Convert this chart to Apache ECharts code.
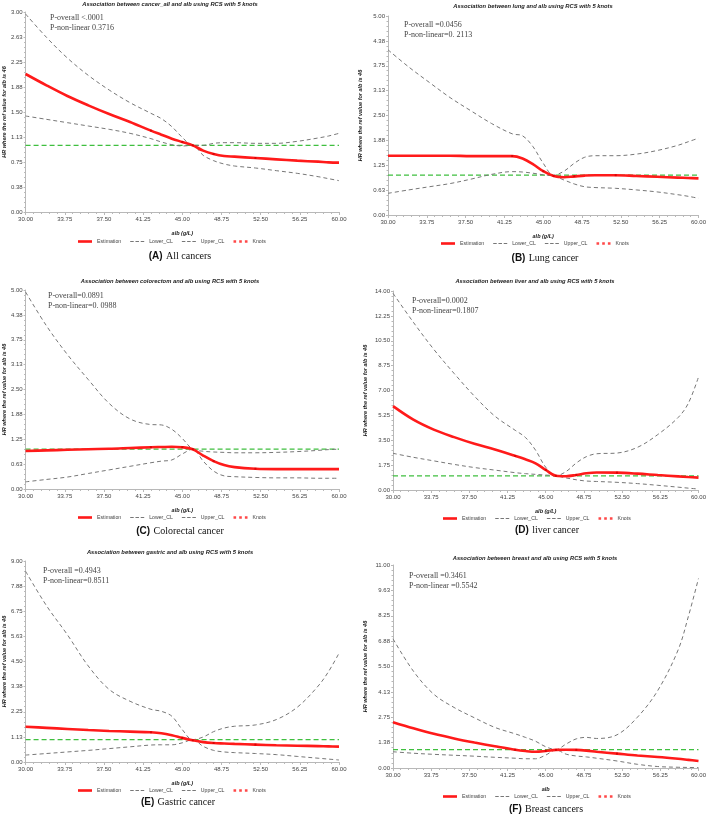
<!DOCTYPE html>
<html>
<head>
<meta charset="utf-8">
<script src="https://cdn.jsdelivr.net/npm/echarts@6/dist/echarts.min.js"></script>
<style>
  html, body { margin: 0; padding: 0; background: #fff; }
  #main { width: 709px; height: 814px; }
</style>
</head>
<body>
<div id="main"></div>
<script>
// albumin grid (g/L), shared by every panel
const alb = [30, 32, 34, 36, 38, 40, 42, 43, 44, 45, 46, 47, 48, 49, 50, 52, 54, 56, 58, 59, 60]
const knotsX = [42, 45, 46, 48, 52]
const refHR = 1

// (A) all cancers
const estA = [2.07, 1.90, 1.74, 1.60, 1.47, 1.35, 1.22, 1.16, 1.10, 1.05, 1.00, 0.92, 0.87, 0.84, 0.83, 0.81, 0.79, 0.77, 0.755, 0.745, 0.74]
const lowA = [1.44, 1.39, 1.34, 1.29, 1.24, 1.18, 1.10, 1.05, 1.01, 0.99, 1.00, 0.85, 0.77, 0.72, 0.69, 0.66, 0.62, 0.58, 0.53, 0.50, 0.47]
const uppA = [2.97, 2.62, 2.31, 2.05, 1.83, 1.64, 1.48, 1.40, 1.28, 1.12, 1.00, 1.00, 1.03, 1.04, 1.04, 1.03, 1.03, 1.06, 1.11, 1.14, 1.18]
// (B) lung
const estB = [1.49, 1.49, 1.49, 1.49, 1.48, 1.48, 1.48, 1.42, 1.28, 1.10, 0.98, 0.95, 0.97, 0.99, 1.00, 1.00, 0.98, 0.96, 0.94, 0.93, 0.92]
const lowB = [0.545, 0.63, 0.71, 0.79, 0.90, 1.02, 1.09, 1.08, 1.05, 1.01, 0.98, 0.88, 0.78, 0.71, 0.69, 0.67, 0.63, 0.58, 0.51, 0.47, 0.42]
const uppB = [4.15, 3.72, 3.33, 2.95, 2.62, 2.30, 2.04, 1.99, 1.72, 1.30, 1.00, 1.10, 1.30, 1.45, 1.49, 1.49, 1.53, 1.62, 1.75, 1.84, 1.93]
// (C) colorectal
const estC = [0.955, 0.97, 0.985, 1.00, 1.01, 1.03, 1.05, 1.055, 1.06, 1.05, 1.00, 0.84, 0.70, 0.60, 0.55, 0.51, 0.50, 0.50, 0.50, 0.50, 0.50]
const lowC = [0.18, 0.24, 0.30, 0.39, 0.48, 0.57, 0.66, 0.70, 0.73, 0.88, 1.00, 0.70, 0.45, 0.33, 0.31, 0.29, 0.28, 0.28, 0.27, 0.27, 0.27]
const uppC = [4.95, 4.10, 3.38, 2.75, 2.15, 1.76, 1.62, 1.61, 1.50, 1.27, 1.00, 0.95, 0.93, 0.92, 0.91, 0.91, 0.92, 0.94, 0.97, 0.99, 1.00]
// (D) liver
const estD = [5.90, 4.95, 4.25, 3.72, 3.25, 2.85, 2.40, 2.16, 1.88, 1.41, 1.00, 0.97, 1.06, 1.18, 1.23, 1.22, 1.15, 1.05, 0.96, 0.91, 0.87]
const lowD = [2.58, 2.30, 2.05, 1.80, 1.58, 1.40, 1.22, 1.15, 1.10, 1.05, 1.00, 0.85, 0.72, 0.63, 0.60, 0.54, 0.45, 0.33, 0.20, 0.13, 0.07]
const uppD = [13.84, 11.80, 9.90, 8.20, 6.60, 5.20, 4.20, 3.70, 2.80, 1.60, 1.00, 1.30, 1.90, 2.35, 2.55, 2.60, 3.00, 3.90, 5.10, 6.10, 7.95]
// (E) gastric
const estE = [1.58, 1.53, 1.48, 1.43, 1.39, 1.36, 1.33, 1.29, 1.20, 1.08, 0.97, 0.89, 0.85, 0.83, 0.81, 0.78, 0.75, 0.73, 0.71, 0.70, 0.69]
const lowE = [0.31, 0.38, 0.45, 0.52, 0.60, 0.68, 0.76, 0.77, 0.77, 0.86, 1.00, 0.70, 0.52, 0.45, 0.42, 0.38, 0.33, 0.25, 0.17, 0.13, 0.09]
const uppE = [8.54, 7.00, 5.70, 4.30, 3.25, 2.72, 2.36, 2.27, 2.05, 1.45, 1.00, 1.12, 1.36, 1.52, 1.60, 1.66, 1.90, 2.45, 3.40, 4.05, 4.87]
// (F) breast
const estF = [2.48, 2.15, 1.85, 1.60, 1.38, 1.18, 0.99, 0.92, 0.88, 0.92, 0.98, 0.99, 0.98, 0.94, 0.88, 0.78, 0.68, 0.60, 0.50, 0.44, 0.38]
const lowF = [0.88, 0.80, 0.74, 0.69, 0.64, 0.58, 0.53, 0.50, 0.50, 0.70, 0.98, 0.75, 0.65, 0.60, 0.53, 0.38, 0.20, 0.08, 0.04, 0.03, 0.02]
const uppF = [7.00, 5.25, 4.00, 3.28, 2.72, 2.20, 1.85, 1.66, 1.45, 1.15, 1.00, 1.30, 1.58, 1.66, 1.60, 1.80, 2.75, 4.20, 6.40, 8.20, 10.27]

const yMax = [3, 5, 5, 14, 9, 11]
const yStep = [0.375, 0.625, 0.625, 1.75, 1.125, 1.375]
const titles = [
  'Association between cancer_all and alb using RCS with 5 knots',
  'Association between lung and alb using RCS with 5 knots',
  'Association between colorectom and alb using RCS with 5 knots',
  'Association between liver and alb using RCS with 5 knots',
  'Association between gastric and alb using RCS with 5 knots',
  'Association between breast and alb using RCS with 5 knots'
]
const pTexts = [
  'P-overall <.0001\nP-non-linear 0.3716',
  'P-overall =0.0456\nP-non-linear=0. 2113',
  'P-overall=0.0891\nP-non-linear=0. 0988',
  'P-overall=0.0002\nP-non-linear=0.1807',
  'P-overall =0.4943\nP-non-linear=0.8511',
  'P-overall =0.3461\nP-non-linear =0.5542'
]
const letters = ['(A)', '(B)', '(C)', '(D)', '(E)', '(F)']
const captions = ['All cancers', 'Lung cancer', 'Colorectal cancer', 'liver cancer', 'Gastric cancer', 'Breast cancers']
const xNames = ['alb (g/L)', 'alb (g/L)', 'alb (g/L)', 'alb (g/L)', 'alb (g/L)', 'alb']

const ests = [estA, estB, estC, estD, estE, estF]
const lows = [lowA, lowB, lowC, lowD, lowE, lowF]
const upps = [uppA, uppB, uppC, uppD, uppE, uppF]

// layout: grid box, title y, p-text pos, legend pos, caption pos
const layout = [
  { left: 24, top: 12, width: 315, height: 200, tx: 170, ty: 1, px: 50, py: 13, lx: 78, ly: 239, cx: 180, cy: 250 },
  { left: 388, top: 16, width: 314, height: 199, tx: 533, ty: 3, px: 404, py: 20, lx: 441, ly: 241, cx: 545, cy: 252 },
  { left: 22, top: 290, width: 317, height: 199, tx: 170, ty: 278, px: 48, py: 291, lx: 78, ly: 515, cx: 180, cy: 525 },
  { left: 393, top: 291, width: 309, height: 199, tx: 535, ty: 278, px: 412, py: 296, lx: 443, ly: 516, cx: 547, cy: 524 },
  { left: 23, top: 561, width: 316, height: 201, tx: 170, ty: 549, px: 43, py: 566, lx: 78, ly: 788, cx: 178, cy: 796 },
  { left: 393, top: 565, width: 309, height: 203, tx: 535, ty: 555, px: 409, py: 571, lx: 443, ly: 794, cx: 546, cy: 803 }
]

const axisGray = '#b8b8b8'
const labelStyle = { fontSize: 6, color: '#444', fontFamily: 'Liberation Sans' }
const solidIcon = 'path://M0,0h16v3h-16z'
const dashIcon = 'path://M0,0h4v1.2h-4zM6,0h4v1.2h-4zM12,0h4v1.2h-4z'
const dotIcon = 'path://M0,0h3v3h-3zM6.5,0h3v3h-3zM13,0h3v3h-3z'

let grid = [], xAxis = [], yAxis = [], series = [], legend = [], graphic = []

layout.forEach((L, i) => {
  grid.push({ left: L.left, top: L.top, width: L.width, height: L.height })
  xAxis.push({
    gridIndex: i, type: 'value', min: 30, max: 60, interval: 3.75,
    name: xNames[i], nameLocation: 'middle', nameGap: 18,
    nameTextStyle: { fontSize: 5.5, fontWeight: 'bold', fontStyle: 'italic', color: '#222', fontFamily: 'Liberation Sans' },
    axisLine: { lineStyle: { color: axisGray } },
    axisTick: { length: 3, lineStyle: { color: axisGray } },
    minorTick: { show: true, splitNumber: 5, length: 2, lineStyle: { color: axisGray } },
    axisLabel: Object.assign({ margin: 4, formatter: v => v.toFixed(2) }, labelStyle),
    splitLine: { show: false }
  })
  yAxis.push({
    gridIndex: i, type: 'value', min: 0, max: yMax[i], interval: yStep[i],
    name: 'HR where the ref value for alb is 46', nameLocation: 'middle', nameRotate: 90,
    nameGap: i % 2 === 0 ? 18 : 25,
    nameTextStyle: { fontSize: 5.5, fontWeight: 'bold', fontStyle: 'italic', color: '#222', fontFamily: 'Liberation Sans' },
    axisLine: { show: true, lineStyle: { color: axisGray } },
    axisTick: { show: true, length: 2, lineStyle: { color: axisGray } },
    minorTick: { show: true, splitNumber: 5, length: 1.5, lineStyle: { color: axisGray } },
    axisLabel: Object.assign({ margin: 3, formatter: v => v.toFixed(2) }, labelStyle),
    splitLine: { show: false }
  })
  const dash = { color: '#777', width: 1, type: [4, 3] }
  series.push({
    name: 'ref', type: 'line', xAxisIndex: i, yAxisIndex: i, symbol: 'none', silent: true,
    lineStyle: { color: '#3fbf3f', width: 1.2, type: [5, 3] },
    data: [alb[0], alb[alb.length - 1]].map(x => [x, refHR]),
    z: 1
  })
  series.push({
    name: 'Lower_CL', type: 'line', xAxisIndex: i, yAxisIndex: i, smooth: 0.35,
    symbol: 'none', lineStyle: dash, itemStyle: { color: '#777' },
    data: alb.map((x, k) => [x, lows[i][k]])
  })
  series.push({
    name: 'Upper_CL', type: 'line', xAxisIndex: i, yAxisIndex: i, smooth: 0.35,
    symbol: 'none', lineStyle: dash, itemStyle: { color: '#777' },
    data: alb.map((x, k) => [x, upps[i][k]])
  })
  series.push({
    name: 'Estimation', type: 'line', xAxisIndex: i, yAxisIndex: i, smooth: 0.35,
    symbol: 'none', lineStyle: { color: '#ff1a1a', width: 2.6 }, itemStyle: { color: '#ff1a1a' },
    data: alb.map((x, k) => [x, ests[i][k]]),
    z: 3
  })
  series.push({
    name: 'Knots', type: 'scatter', xAxisIndex: i, yAxisIndex: i,
    symbol: 'rect', symbolSize: 2, itemStyle: { color: '#d00000' },
    data: knotsX.map(x => [x, ests[i][alb.indexOf(x)]]),
    z: 4
  })
  legend.push({
    left: L.lx, top: L.ly, orient: 'horizontal', padding: 0,
    itemWidth: 14, itemHeight: 6, itemGap: 9,
    textStyle: { fontSize: 5.2, color: '#444', fontFamily: 'Liberation Sans' },
    selectedMode: false,
    data: [
      { name: 'Estimation', icon: solidIcon, itemStyle: { color: '#ff1a1a' } },
      { name: 'Lower_CL', icon: dashIcon, itemStyle: { color: '#777' } },
      { name: 'Upper_CL', icon: dashIcon, itemStyle: { color: '#777' } },
      { name: 'Knots', icon: dotIcon, itemStyle: { color: '#ff1a1a' } }
    ]
  })
  graphic.push({
    type: 'text', x: L.tx, y: L.ty,
    style: { text: titles[i], textAlign: 'center', fill: '#222', font: 'italic bold 5.8px "Liberation Sans"' }
  })
  graphic.push({
    type: 'text', x: L.px, y: L.py,
    style: { text: pTexts[i], fill: '#444', font: '8px "Liberation Serif"', lineHeight: 10 }
  })
  graphic.push({
    type: 'text', x: L.cx, y: L.cy,
    style: {
      text: '{b|' + letters[i] + '} {s|' + captions[i] + '}', textAlign: 'center',
      rich: {
        b: { fontSize: 10, fontWeight: 'bold', fontFamily: 'Liberation Sans', fill: '#111' },
        s: { fontSize: 10, fontFamily: 'Liberation Serif', fill: '#111' }
      }
    }
  })
})

const chart = echarts.init(document.getElementById('main'))
chart.setOption({
  backgroundColor: '#fff',
  animation: false,
  grid: grid,
  xAxis: xAxis,
  yAxis: yAxis,
  legend: legend,
  series: series,
  graphic: graphic
})
window.addEventListener('resize', () => chart.resize())
</script>
</body>
</html>
